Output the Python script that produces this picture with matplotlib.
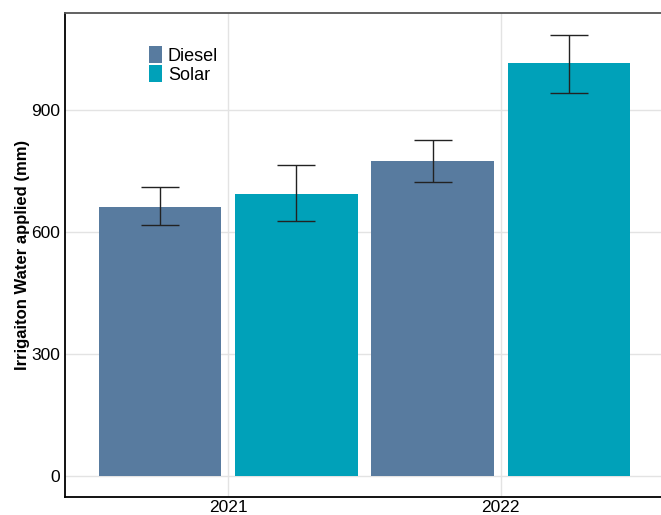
import matplotlib
matplotlib.use("Agg")
import matplotlib.pyplot as plt
import numpy as np

years = ["2021", "2022"]
systems = ["Diesel", "Solar"]
water_mean = {"Diesel": [662, 775], "Solar": [694, 1014]}
water_low = {"Diesel": [616, 723], "Solar": [626, 942]}
water_high = {"Diesel": [710, 826], "Solar": [764, 1085]}
colors = {"Diesel": "#587b9f", "Solar": "#00a1b9"}
y_ticks = [0, 300, 600, 900]

plt.rcParams["font.family"] = ["Liberation Sans", "DejaVu Sans"]

fig = plt.figure(figsize=(6.61, 5.15), dpi=100)
ax = fig.add_axes([0.0976, 0.035, 0.9077, 0.9398])

x = np.arange(len(years))
offsets = {"Diesel": -0.25, "Solar": 0.25}
for name in systems:
    pos = x + offsets[name]
    mean = np.array(water_mean[name])
    yerr = [mean - np.array(water_low[name]), np.array(water_high[name]) - mean]
    ax.bar(pos, mean, width=0.45, color=colors[name], label=name, zorder=2)
    ax.errorbar(pos, mean, yerr=yerr, fmt="none", ecolor="#222222", elinewidth=1.0, capsize=14, capthick=1.0, zorder=3)

ax.set_xlim(-0.6, 1.6)
ax.set_ylim(-52, 1138)
ax.set_xticks(x, years)
ax.set_yticks(y_ticks)
ax.tick_params(length=0, labelsize=12.5, colors="black")
ax.tick_params(axis="y", pad=3)
ax.tick_params(axis="x", pad=2)
ax.set_ylabel("Irrigaiton Water applied (mm)", fontsize=12, fontweight="bold", labelpad=1)
ax.grid(color="#e3e3e3", linewidth=1.0, zorder=0)
ax.set_axisbelow(True)
for side in ["left", "bottom"]:
    ax.spines[side].set_color("black"); ax.spines[side].set_linewidth(1.3)
ax.spines["top"].set_color("#555555"); ax.spines["top"].set_linewidth(1.3)
ax.spines["right"].set_visible(False)

ax.legend(loc="upper left", bbox_to_anchor=(149 / 661, 1 - 46 / 515), bbox_transform=fig.transFigure,
          frameon=False, fontsize=13, handlelength=0.7, handleheight=1.1, labelspacing=0.0,
          handletextpad=0.35, borderpad=0, borderaxespad=0)

fig.savefig("out.png", dpi=100)
